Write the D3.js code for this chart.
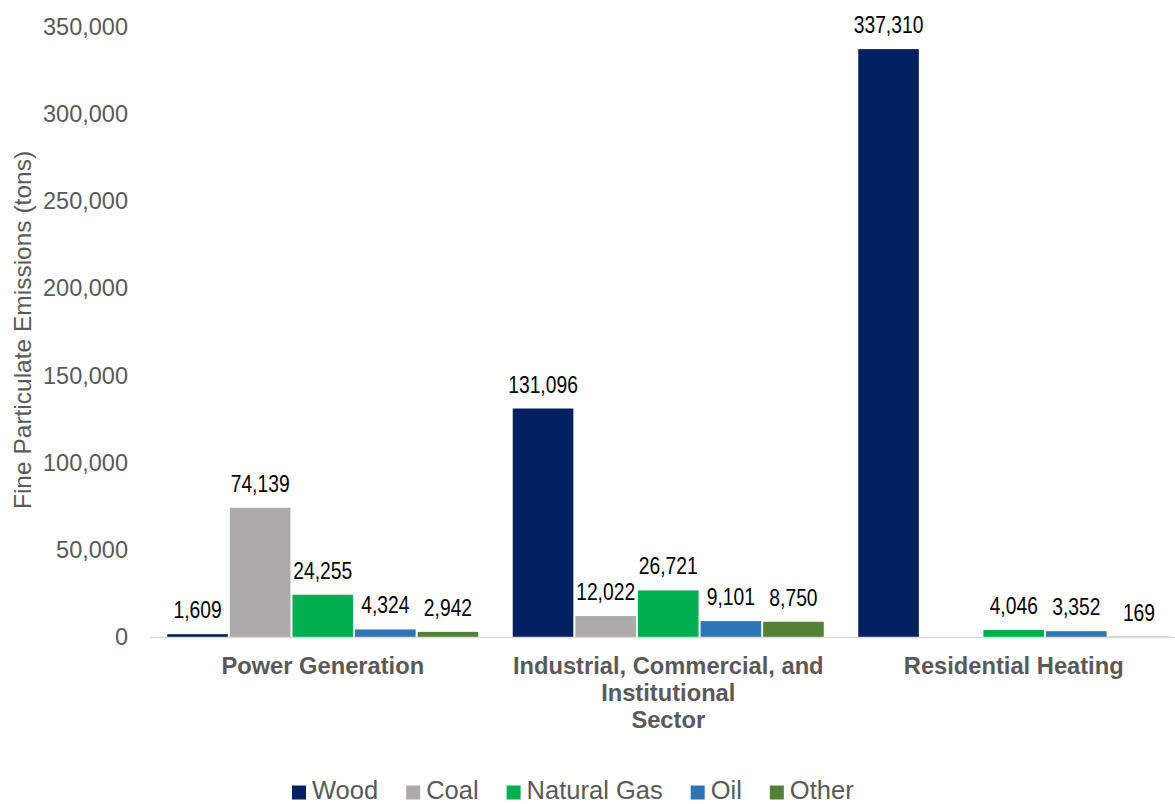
<!DOCTYPE html>
<html>
<head>
<meta charset="utf-8">
<script src="https://cdn.jsdelivr.net/npm/d3@7"></script>
<style>
  html, body { margin: 0; padding: 0; background: #fff; }
  svg { display: block; }
</style>
</head>
<body>
<svg id="chart" width="1175" height="804"></svg>
<script>
// ---- data ----
const categories = ["Power Generation", "Industrial, Commercial, and Institutional Sector", "Residential Heating"];
const categoryLines = [["Power Generation"], ["Industrial, Commercial, and", "Institutional", "Sector"], ["Residential Heating"]];
const seriesNames = ["Wood", "Coal", "Natural Gas", "Oil", "Other"];
const wood = [1609, 131096, 337310];
const coal = [74139, 12022, 0];
const naturalGas = [24255, 26721, 4046];
const oil = [4324, 9101, 3352];
const other = [2942, 8750, 169];
const yTicks = [0, 50000, 100000, 150000, 200000, 250000, 300000, 350000];
const yTitle = "Fine Particulate Emissions (tons)";
const colors = ["#002060", "#AEAAAA", "#00B050", "#2E75B6", "#548235"];

const seriesValues = [wood, coal, naturalGas, oil, other];

// ---- layout ----
const svg = d3.select("#chart");
const plotLeft = 150, plotRight = 1186.5, plotTop = 27, plotBottom = 637;

const x0 = d3.scaleBand().domain(categories).range([plotLeft, plotRight])
  .paddingInner(0.094).paddingOuter(0.047);
const x1 = d3.scaleBand().domain(seriesNames).range([0, x0.bandwidth()]).padding(0);
const y = d3.scaleLinear().domain([0, 350000]).range([plotBottom, plotTop]);
const color = d3.scaleOrdinal().domain(seriesNames).range(colors);

const fmt = d3.format(",");

// y axis
const yAxis = svg.append("g")
  .attr("transform", `translate(${plotLeft},0)`)
  .call(d3.axisLeft(y).tickValues(yTicks).tickFormat(fmt).tickSize(0).tickPadding(22));
yAxis.select(".domain").remove();
yAxis.selectAll("text")
  .attr("font-family", "Liberation Sans, Arial, sans-serif")
  .attr("font-size", "23.5px")
  .attr("fill", "#595959");

// y title
svg.append("text")
  .attr("transform", `translate(31,${(plotTop + plotBottom) / 2 - 2}) rotate(-90)`)
  .attr("text-anchor", "middle")
  .attr("font-family", "Liberation Sans, Arial, sans-serif")
  .attr("font-size", "24.5px")
  .attr("fill", "#595959")
  .text(yTitle);

// bars
const rows = [];
categories.forEach((c, ci) => {
  seriesNames.forEach((s, si) => {
    rows.push({ cat: c, ci, series: s, value: seriesValues[si][ci] });
  });
});

const groups = svg.append("g");
groups.selectAll("rect").data(rows).join("rect")
  .attr("x", d => x0(d.cat) + x1(d.series) + 1)
  .attr("width", x1.bandwidth() - 2)
  .attr("y", d => y(d.value))
  .attr("height", d => y(0) - y(d.value))
  .attr("fill", d => color(d.series));

// axis baseline
svg.append("line")
  .attr("x1", plotLeft).attr("x2", 1175)
  .attr("y1", plotBottom + 0.5).attr("y2", plotBottom + 0.5)
  .attr("stroke", "#D9D9D9").attr("stroke-width", 1.5);

// data labels
const labels = svg.append("g");
labels.selectAll("g").data(rows.filter(d => d.value > 0)).join("g")
  .attr("transform", d => `translate(${x0(d.cat) + x1(d.series) + x1.bandwidth() / 2},${y(d.value) - 16})`)
  .append("text")
  .attr("transform", "scale(0.82,1)")
  .attr("text-anchor", "middle")
  .attr("font-family", "Liberation Sans, Arial, sans-serif")
  .attr("font-size", "23.5px")
  .attr("fill", "#000")
  .text(d => fmt(d.value));

// category labels
const catG = svg.append("g");
categories.forEach((c, ci) => {
  const t = catG.append("text")
    .attr("text-anchor", "middle")
    .attr("font-family", "Liberation Sans, Arial, sans-serif")
    .attr("font-weight", "bold")
    .attr("font-size", "23.7px")
    .attr("fill", "#595959");
  categoryLines[ci].forEach((line, li) => {
    t.append("tspan")
      .attr("x", x0(c) + x0.bandwidth() / 2)
      .attr("y", 673.5 + li * 27.3)
      .text(line);
  });
});

// legend
const legend = svg.append("g");
let lx = 292;
seriesNames.forEach((s, i) => {
  legend.append("rect")
    .attr("x", lx).attr("y", 785.5).attr("width", 14).attr("height", 14)
    .attr("fill", color(s));
  const t = legend.append("text")
    .attr("x", lx + 20).attr("y", 798.5)
    .attr("font-family", "Liberation Sans, Arial, sans-serif")
    .attr("font-size", "25.5px")
    .attr("fill", "#595959")
    .text(s);
  lx += 20 + t.node().getComputedTextLength() + 28;
});
</script>
</body>
</html>
